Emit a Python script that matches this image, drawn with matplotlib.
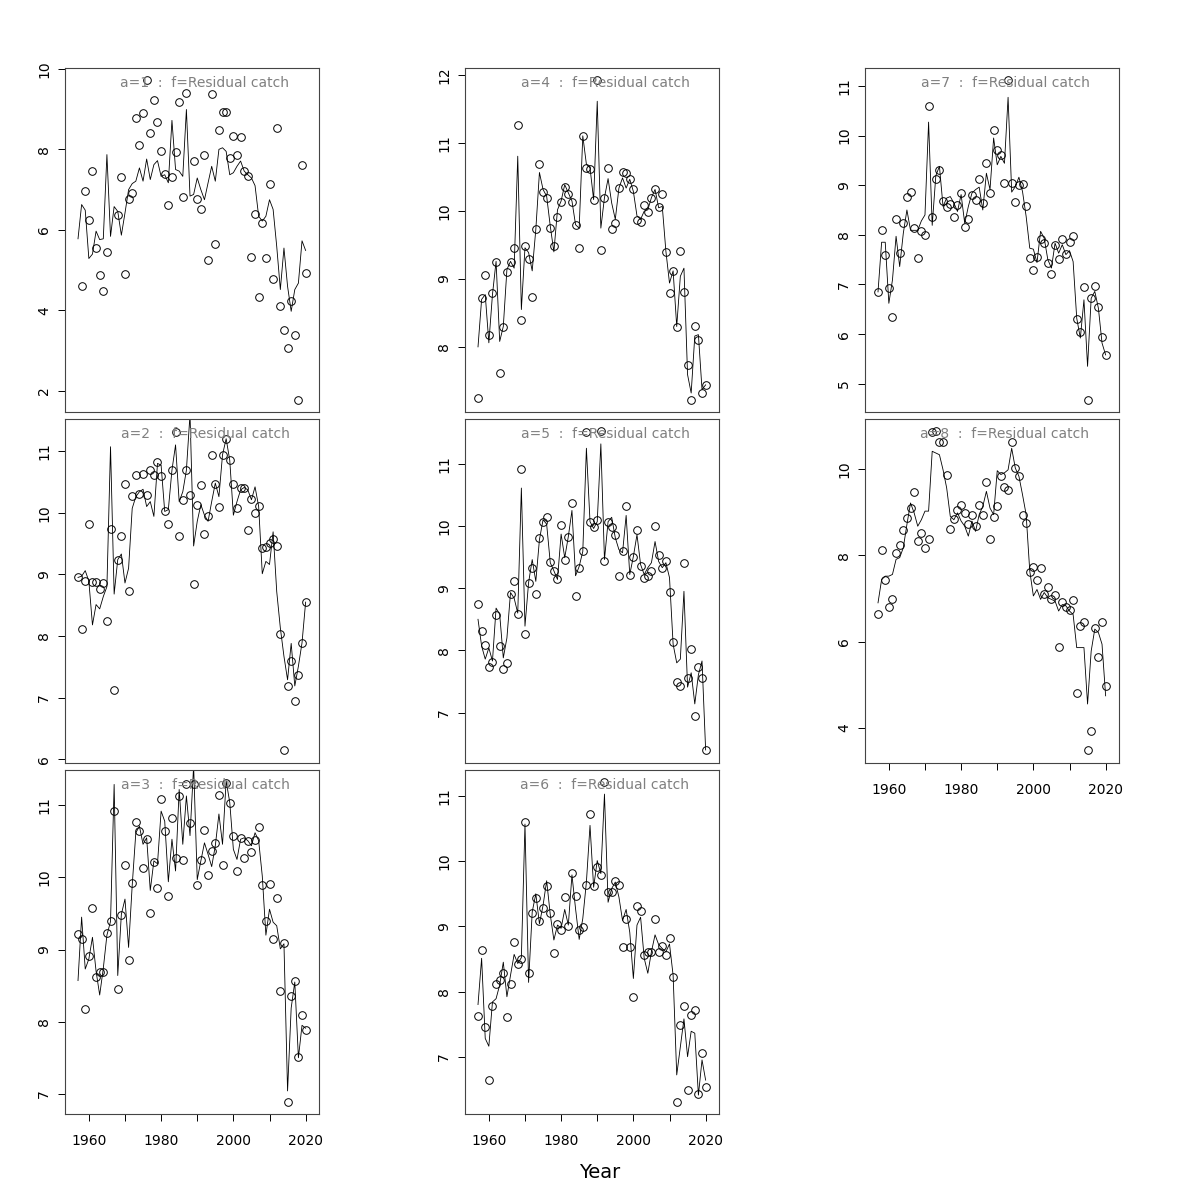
import numpy as np
import matplotlib.pyplot as plt

nan = np.nan
years = list(range(1957, 2021))

# fitted (line) and observed (circles) residual catch, one pair per age
fit_a1 = [5.78, 6.63, 6.49, 5.29, 5.40, 5.97, 5.76, 5.78, 7.87, 5.84, 6.58, 6.46, 5.87, 6.42, 7.00, 7.15,
          7.21, 7.54, 7.21, 7.76, 7.25, 7.62, 7.72, 7.33, 7.37, 7.17, 8.72, 7.50, 7.46, 7.33, 8.99, 6.84,
          6.88, 7.29, 7.00, 6.75, 7.17, 7.58, 7.21, 8.00, 8.04, 7.95, 7.37, 7.42, 7.58, 7.71, 7.46, 7.37,
          7.29, 7.10, 6.34, 6.22, 6.34, 6.75, 6.51, 5.59, 4.52, 5.55, 4.60, 3.98, 4.52, 4.68, 5.73, 5.49]
obs_a1 = [nan, 4.60, 6.96, 6.24, 7.47, 5.55, 4.87, 4.48, 5.45, nan, nan, 6.36, 7.31, 4.91, 6.78, 6.91,
          8.77, 8.12, 8.91, 9.72, 8.41, 9.23, 8.68, 7.95, 7.39, 6.62, 7.32, 7.94, 9.18, 6.82, 9.40, nan,
          7.71, 6.78, 6.51, 7.86, 5.25, 9.37, 5.65, 8.47, 8.92, 8.92, 7.78, 8.32, 7.85, 8.31, 7.46, 7.34,
          5.34, 6.40, 4.33, 6.17, 5.30, 7.14, 4.79, 8.54, 4.10, 3.52, 3.08, 4.24, 3.39, 1.78, 7.60, 4.94]

fit_a2 = [8.95, 8.97, 9.06, 8.89, 8.18, 8.51, 8.44, 8.64, 8.80, 11.07, 8.68, 9.24, 9.33, 8.86, 9.10, 10.07,
          10.26, 10.34, 10.38, 10.10, 10.18, 9.94, 10.80, 10.77, 10.02, 10.05, 10.69, 11.10, 10.18, 10.34, 10.69, 11.60,
          9.46, 9.86, 10.13, 9.96, 9.86, 10.18, 10.48, 10.26, 10.94, 11.20, 10.85, 9.96, 10.18, 10.37, 10.41, 10.37,
          10.21, 10.42, 10.10, 9.01, 9.21, 9.16, 9.69, 8.72, 8.13, 7.67, 7.29, 7.88, 7.19, 7.51, 7.89, 8.55]
obs_a2 = [8.95, 8.12, 8.89, 9.81, 8.87, 8.88, 8.77, 8.86, 8.25, 9.73, 7.12, 9.23, 9.62, 10.47, 8.73, 10.27,
          10.61, 10.30, 10.63, 10.28, 10.70, 10.61, 10.82, 10.60, 10.02, 9.81, 10.69, 11.31, 9.62, 10.21, 10.70, 10.29,
          8.85, 10.13, 10.45, 9.66, 9.94, 10.94, 10.46, 10.10, 10.94, 11.19, 10.85, 10.46, 10.08, 10.40, 10.40, 9.72,
          10.23, 10.00, 10.11, 9.42, 9.44, 9.51, 9.57, 9.46, 8.04, 6.15, 7.19, 7.60, 6.95, 7.36, 7.88, 8.55]

fit_a3 = [8.57, 9.45, 8.73, 8.87, 9.17, 8.70, 8.37, 8.74, 9.20, 9.39, 11.29, 8.64, 9.49, 9.70, 9.03, 9.89,
          10.62, 10.71, 10.46, 10.55, 9.82, 10.23, 10.19, 10.92, 10.78, 9.94, 10.53, 10.09, 11.22, 10.46, 11.13, 10.58,
          11.55, 9.97, 10.23, 10.48, 10.32, 10.15, 10.44, 10.88, 10.46, 11.34, 11.04, 10.39, 10.25, 10.53, 10.55, 10.51,
          10.44, 10.62, 10.51, 10.02, 9.20, 9.56, 9.38, 9.33, 9.01, 9.08, 7.04, 8.19, 8.55, 7.50, 7.95, 7.91]
obs_a3 = [9.21, 9.15, 8.18, 8.91, 9.57, 8.62, 8.69, 8.69, 9.23, 9.39, 10.92, 8.45, 9.48, 10.17, 8.86, 9.93,
          10.77, 10.64, 10.13, 10.54, 9.51, 10.21, 9.86, 11.09, 10.65, 9.74, 10.82, 10.27, 11.13, 10.24, 11.30, 10.75,
          11.29, 9.89, 10.24, 10.66, 10.03, 10.36, 10.48, 11.15, 10.17, 11.31, 11.03, 10.58, 10.09, 10.55, 10.27, 10.51,
          10.35, 10.52, 10.70, 9.89, 9.40, 9.91, 9.14, 9.71, 8.42, 9.09, 6.89, 8.35, 8.56, 7.51, 8.09, 7.89]

fit_a4 = [8.00, 8.70, 8.77, 8.06, 8.77, 9.26, 8.08, 8.30, 9.14, 9.26, 9.16, 10.81, 8.55, 9.46, 9.39, 9.12,
          9.73, 10.57, 10.32, 10.22, 9.78, 9.40, 10.02, 10.15, 10.39, 10.27, 10.15, 9.80, 9.75, 11.11, 10.69, 10.64,
          10.17, 11.62, 9.75, 10.20, 10.48, 10.12, 9.88, 10.34, 10.49, 10.34, 10.47, 10.29, 9.93, 9.88, 10.00, 10.02,
          10.20, 10.32, 10.05, 10.07, 9.41, 8.94, 9.12, 8.30, 9.04, 9.16, 7.59, 7.32, 8.16, 8.18, 7.37, 7.44]
obs_a4 = [7.24, 8.72, 9.06, 8.18, 8.80, 9.25, 7.62, 8.30, 9.11, 9.25, 9.45, 11.27, 8.39, 9.49, 9.30, 8.73,
          9.73, 10.70, 10.28, 10.19, 9.75, 9.49, 9.91, 10.13, 10.36, 10.25, 10.14, 9.79, 9.45, 11.11, 10.63, 10.62,
          10.17, 11.93, 9.43, 10.20, 10.64, 9.73, 9.83, 10.34, 10.57, 10.56, 10.47, 10.33, 9.87, 9.84, 10.09, 9.99,
          10.20, 10.33, 10.06, 10.26, 9.40, 8.79, 9.12, 8.30, 9.42, 8.81, 7.74, 7.22, 8.31, 8.10, 7.32, 7.44]

fit_a5 = [8.50, 8.07, 7.86, 8.04, 7.83, 8.68, 8.58, 7.88, 8.20, 8.93, 8.84, 8.60, 10.61, 8.39, 9.09, 9.46,
          9.11, 9.78, 10.10, 10.03, 9.41, 9.28, 9.14, 9.87, 9.49, 9.83, 10.25, 9.20, 9.35, 9.59, 11.25, 10.07,
          9.96, 10.07, 11.32, 9.46, 10.07, 10.14, 9.81, 9.62, 9.57, 10.17, 9.22, 9.51, 9.86, 9.38, 9.22, 9.33,
          9.41, 9.75, 9.43, 9.33, 9.41, 9.17, 8.10, 7.80, 7.86, 8.95, 7.41, 7.64, 7.14, 7.61, 7.83, 6.40]
obs_a5 = [8.74, 8.31, 8.08, 7.73, 7.82, 8.57, 8.07, 7.70, 7.79, 8.91, 9.11, 8.58, 10.91, 8.27, 9.09, 9.33,
          8.91, 9.80, 10.07, 10.14, 9.42, 9.28, 9.15, 10.01, 9.46, 9.82, 10.37, 8.88, 9.33, 9.59, 11.51, 10.06,
          9.98, 10.10, 11.52, 9.44, 10.06, 9.99, 9.86, 9.20, 9.59, 10.32, 9.22, 9.50, 9.93, 9.36, 9.17, 9.20,
          9.28, 10.00, 9.53, 9.32, 9.44, 8.94, 8.13, 7.49, 7.42, 9.41, 7.55, 8.02, 6.94, 7.73, 7.55, 6.40]

fit_a6 = [7.80, 8.51, 7.28, 7.16, 7.84, 7.89, 8.10, 8.45, 7.92, 8.25, 8.57, 8.43, 8.52, 10.57, 8.14, 9.22,
          9.50, 9.04, 9.32, 9.70, 9.18, 8.79, 9.02, 8.97, 9.26, 9.02, 9.79, 9.27, 8.80, 9.12, 9.68, 10.55,
          9.60, 10.01, 9.81, 11.03, 9.37, 9.58, 9.68, 9.45, 9.09, 9.26, 8.91, 8.20, 9.02, 9.14, 8.51, 8.28,
          8.61, 8.87, 8.72, 8.66, 8.61, 8.73, 8.25, 6.72, 7.15, 7.58, 7.00, 7.39, 7.36, 6.41, 6.95, 6.64]
obs_a6 = [7.63, 8.63, 7.46, 6.64, 7.78, 8.11, 8.17, 8.28, 7.61, 8.12, 8.76, 8.42, 8.50, 10.60, 8.28, 9.21,
          9.43, 9.09, 9.28, 9.62, 9.20, 8.59, 9.04, 8.95, 9.45, 9.00, 9.82, 9.46, 8.94, 8.99, 9.63, 10.73,
          9.62, 9.91, 9.79, 11.21, 9.52, 9.53, 9.69, 9.63, 8.69, 9.12, 8.68, 7.91, 9.31, 9.23, 8.56, 8.60,
          8.61, 9.11, 8.61, 8.70, 8.56, 8.82, 8.23, 6.31, 7.48, 7.78, 6.49, 7.64, 7.71, 6.42, 7.06, 6.53]

fit_a7 = [6.85, 7.85, 7.85, 6.62, 7.09, 7.97, 7.36, 8.03, 8.50, 8.09, 8.09, 8.09, 8.28, 8.40, 10.27, 8.19,
          9.19, 9.38, 8.57, 8.74, 8.77, 8.64, 8.47, 8.81, 8.23, 8.57, 8.84, 8.91, 8.96, 8.50, 9.24, 8.91,
          9.95, 9.41, 9.58, 9.44, 10.77, 8.86, 8.97, 9.16, 8.87, 8.37, 7.73, 7.71, 7.44, 8.07, 7.93, 7.50,
          7.33, 7.83, 7.63, 7.80, 7.60, 7.68, 7.46, 6.32, 5.92, 6.69, 5.35, 6.72, 6.86, 6.52, 5.82, 5.58]
obs_a7 = [6.85, 8.09, 7.60, 6.93, 6.34, 8.32, 7.64, 8.23, 8.76, 8.87, 8.14, 7.54, 8.08, 8.00, 10.60, 8.36,
          9.13, 9.30, 8.68, 8.56, 8.62, 8.36, 8.60, 8.85, 8.15, 8.31, 8.81, 8.70, 9.13, 8.65, 9.44, 8.85,
          10.12, 9.70, 9.60, 9.05, 11.11, 9.05, 8.66, 9.01, 9.03, 8.57, 7.54, 7.29, 7.56, 7.92, 7.83, 7.44,
          7.21, 7.79, 7.51, 7.91, 7.62, 7.85, 7.97, 6.30, 6.05, 6.95, 4.68, 6.72, 6.97, 6.55, 5.95, 5.58]

fit_a8 = [6.90, 7.44, 7.52, 7.52, 7.56, 7.91, 7.95, 8.18, 8.72, 9.22, 8.99, 8.68, 8.83, 9.03, 9.03, 10.42,
          10.38, 10.34, 9.99, 9.57, 8.91, 8.83, 8.99, 8.80, 8.68, 8.45, 8.80, 8.56, 8.95, 9.14, 9.49, 9.10,
          8.95, 9.97, 9.88, 9.92, 9.99, 10.49, 10.03, 9.84, 9.41, 8.95, 7.64, 7.06, 7.21, 6.98, 7.14, 7.02,
          6.98, 6.94, 6.71, 6.86, 6.83, 6.71, 6.63, 5.86, 5.86, 5.86, 4.55, 5.78, 6.29, 6.21, 5.94, 4.74]
obs_a8 = [6.65, 8.12, 7.42, 6.80, 6.99, 8.06, 8.24, 8.59, 8.86, 9.11, 9.47, 8.33, 8.53, 8.18, 8.39, 10.86,
          10.88, 10.63, 10.63, 9.87, 8.61, 8.85, 9.05, 9.17, 8.98, 8.72, 8.93, 8.69, 9.18, 8.93, 9.70, 8.39,
          8.89, 9.14, 9.85, 9.58, 9.52, 10.64, 10.03, 9.85, 8.94, 8.76, 7.61, 7.73, 7.42, 7.71, 7.11, 7.26,
          7.00, 7.08, 5.88, 6.91, 6.80, 6.73, 6.97, 4.80, 6.36, 6.46, 3.48, 3.93, 6.31, 5.65, 6.45, 4.97]

ages = [1, 2, 3, 4, 5, 6, 7, 8]
fits = [fit_a1, fit_a2, fit_a3, fit_a4, fit_a5, fit_a6, fit_a7, fit_a8]
obss = [obs_a1, obs_a2, obs_a3, obs_a4, obs_a5, obs_a6, obs_a7, obs_a8]
ylims = [(1.48, 10.02), (5.94, 11.52), (6.72, 11.49), (7.04, 12.11),
         (6.19, 11.72), (6.12, 11.40), (4.43, 11.36), (3.18, 11.17)]
yticks = [[2, 4, 6, 8, 10], range(6, 12), range(7, 12), range(8, 13),
          range(7, 12), range(7, 12), range(5, 12), [4, 6, 8, 10]]

# panel boxes in pixels (left, top), filled column by column
W, H = 254, 344
lefts = [65, 465, 865]
tops = [68, 419, 770]
boxes = [(lefts[0], tops[0]), (lefts[0], tops[1]), (lefts[0], tops[2]),
         (lefts[1], tops[0]), (lefts[1], tops[1]), (lefts[1], tops[2]),
         (lefts[2], tops[0]), (lefts[2], tops[1])]
bottom_panels = [2, 5, 7]

fig = plt.figure(figsize=(12, 12), dpi=100)

for k in range(8):
    l, t = boxes[k]
    ax = fig.add_axes([l / 1200, 1 - (t + H) / 1200, W / 1200, H / 1200])
    ax.plot(years, fits[k], color='black', lw=0.6)
    ax.plot(years, obss[k], 'o', mfc='none', mec='black', ms=5.5, mew=0.7)
    ax.set_xlim(1953.4, 2023.7)
    ax.set_ylim(*ylims[k])
    ax.set_yticks(list(yticks[k]))
    ax.tick_params(axis='y', direction='out', length=5, width=0.7, labelsize=10, pad=5)
    plt.setp(ax.get_yticklabels(), rotation=90, va='center')
    if k in bottom_panels:
        ax.set_xticks(range(1960, 2021, 10))
        ax.set_xticklabels(['1960', '', '1980', '', '2000', '', '2020'])
        ax.tick_params(axis='x', direction='out', length=5, width=0.7, labelsize=10, pad=9.5)
    else:
        ax.set_xticks([])
    for s in ax.spines.values():
        s.set_linewidth(0.8)
        s.set_color('#444444')
    ax.text(0.551, 0.955, f'a={ages[k]}  :  f=Residual catch', transform=ax.transAxes,
            ha='center', va='center', color='grey', fontsize=10)

fig.text(600 / 1200, 1 - 1172 / 1200, 'Year', ha='center', va='center', fontsize=14)

fig.savefig('out.png', dpi=100)
